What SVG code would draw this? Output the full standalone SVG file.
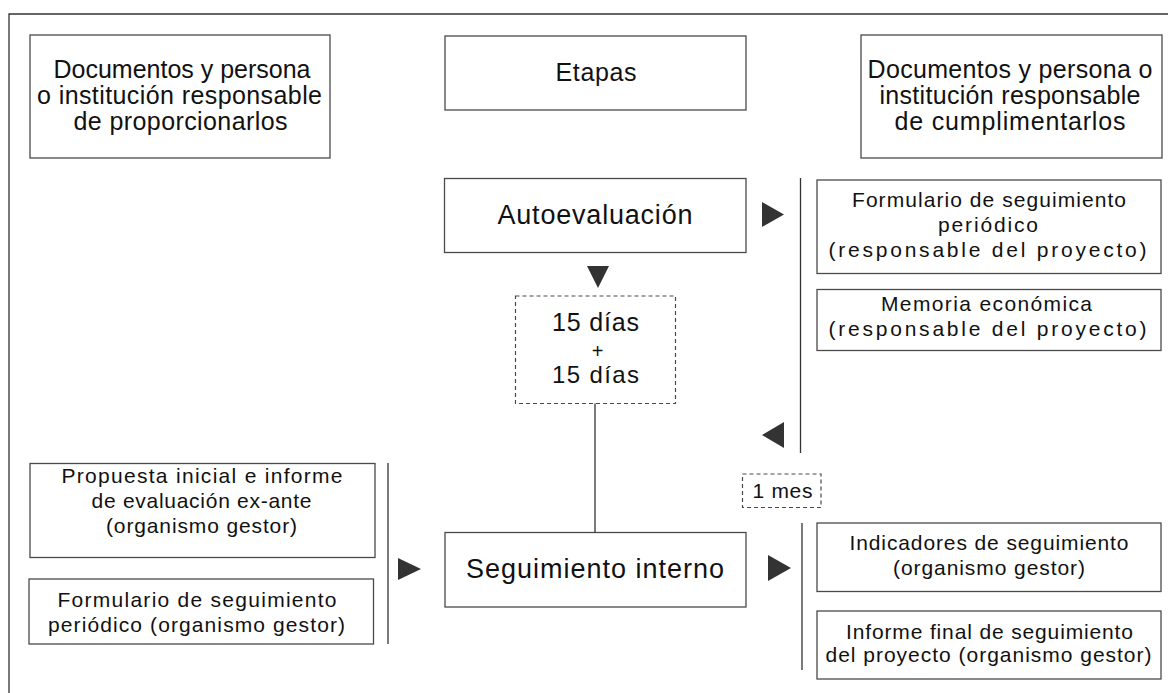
<svg xmlns="http://www.w3.org/2000/svg" width="1168" height="693" viewBox="0 0 1168 693">
<style>
.box{fill:#fff;stroke:#4a4a4a;stroke-width:1.3}
.dash{fill:#fff;stroke:#4a4a4a;stroke-width:1.2;stroke-dasharray:4 3}
.ln{stroke:#333;stroke-width:1.3;fill:none}
.tri{fill:#333}
text{font-family:"Liberation Sans",Arial,sans-serif;fill:#111;text-anchor:middle}
.h{font-size:25px}
.m{font-size:27px}
.s{font-size:21px}
</style>
<rect width="1168" height="693" fill="#fff"/>
<path class="ln" d="M9,693 V14 H1168"/>

<g id="hdr-left">
<rect class="box" x="30" y="35" width="300" height="123"/>
<text class="h" x="182" y="77.5" textLength="257" lengthAdjust="spacing">Documentos y persona</text>
<text class="h" x="179.5" y="103.5" textLength="285" lengthAdjust="spacing">o institución responsable</text>
<text class="h" x="180.5" y="129.5" textLength="214" lengthAdjust="spacing">de proporcionarlos</text>
</g>
<g id="hdr-mid">
<rect class="box" x="445" y="36" width="301" height="74"/>
<text x="596" y="80.5" style="font-size:25px" textLength="81" lengthAdjust="spacing">Etapas</text>
</g>
<g id="hdr-right">
<rect class="box" x="861" y="35" width="301" height="123"/>
<text class="h" x="1010" y="77.5" textLength="285" lengthAdjust="spacing">Documentos y persona o</text>
<text class="h" x="1010" y="103.5" textLength="261" lengthAdjust="spacing">institución responsable</text>
<text class="h" x="1010" y="129.5" textLength="231" lengthAdjust="spacing">de cumplimentarlos</text>
</g>

<g id="autoevaluacion">
<rect class="box" x="444.5" y="178.5" width="301.5" height="74"/>
<text class="m" x="595" y="224" textLength="195" lengthAdjust="spacing">Autoevaluación</text>
</g>
<g id="plazo">
<rect class="dash" x="515.5" y="296" width="160" height="107.5"/>
<text x="595.5" y="331" style="font-size:25px" textLength="87" lengthAdjust="spacing">15 días</text>
<text x="597.5" y="358" style="font-size:20px">+</text>
<text x="595.5" y="383" style="font-size:24px" textLength="87" lengthAdjust="spacing">15 días</text>
</g>
<g id="seguimiento">
<rect class="box" x="445" y="532.5" width="301" height="74.5"/>
<text class="m" x="595" y="577.5" textLength="258" lengthAdjust="spacing">Seguimiento interno</text>
</g>
<g id="mes">
<rect class="dash" x="742.5" y="474" width="78.5" height="33.5"/>
<text x="782.5" y="498" style="font-size:21px" textLength="60" lengthAdjust="spacing">1 mes</text>
</g>

<g id="form-periodico-resp">
<rect class="box" x="817" y="180" width="344" height="93.5"/>
<text class="s" x="989" y="207" textLength="274" lengthAdjust="spacing">Formulario de seguimiento</text>
<text class="s" x="988" y="232" textLength="100" lengthAdjust="spacing">periódico</text>
<text class="s" x="987.5" y="257" textLength="318" lengthAdjust="spacing">(responsable del proyecto)</text>
</g>
<g id="memoria">
<rect class="box" x="817" y="289.5" width="344" height="61"/>
<text class="s" x="986.5" y="311" textLength="211" lengthAdjust="spacing">Memoria económica</text>
<text class="s" x="987.5" y="336" textLength="318" lengthAdjust="spacing">(responsable del proyecto)</text>
</g>

<g id="propuesta">
<rect class="box" x="30" y="463.5" width="345" height="94"/>
<text class="s" x="202" y="483" textLength="281" lengthAdjust="spacing">Propuesta inicial e informe</text>
<text class="s" x="201.5" y="508" textLength="220" lengthAdjust="spacing">de evaluación ex-ante</text>
<text class="s" x="201.5" y="533" textLength="191" lengthAdjust="spacing">(organismo gestor)</text>
</g>
<g id="form-periodico-gestor">
<rect class="box" x="29" y="579" width="344.5" height="65"/>
<text class="s" x="197" y="606.5" textLength="279" lengthAdjust="spacing">Formulario de seguimiento</text>
<text class="s" x="196.5" y="631.5" textLength="297" lengthAdjust="spacing">periódico (organismo gestor)</text>
</g>

<g id="indicadores">
<rect class="box" x="817" y="523" width="344" height="68.5"/>
<text class="s" x="989" y="550" textLength="279" lengthAdjust="spacing">Indicadores de seguimiento</text>
<text class="s" x="989" y="575" textLength="192" lengthAdjust="spacing">(organismo gestor)</text>
</g>
<g id="informe-final">
<rect class="box" x="817" y="611" width="344" height="68"/>
<text class="s" x="989.5" y="638.5" textLength="287" lengthAdjust="spacing">Informe final de seguimiento</text>
<text class="s" x="988.5" y="662" textLength="326" lengthAdjust="spacing">del proyecto (organismo gestor)</text>
</g>

<g id="connectors">
<line class="ln" x1="800.5" y1="178" x2="800.5" y2="453"/>
<line class="ln" x1="802" y1="523" x2="802" y2="670"/>
<line class="ln" x1="388" y1="463" x2="388" y2="644"/>
<line class="ln" x1="595" y1="403.5" x2="595" y2="532.5"/>
<polygon class="tri" points="762,202 784,214.5 762,227"/>
<polygon class="tri" points="587,266 609,266 598,288"/>
<polygon class="tri" points="784,422 784,448 762,435"/>
<polygon class="tri" points="398,558 421,569 398,580"/>
<polygon class="tri" points="768,555 791,568 768,581"/>
</g>
</svg>
